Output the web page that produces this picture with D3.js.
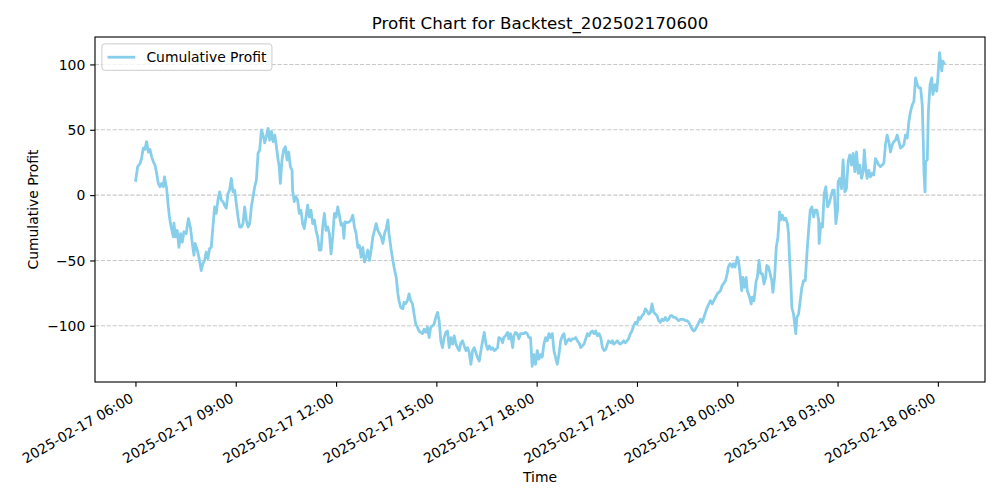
<!DOCTYPE html>
<html>
<head>
<meta charset="utf-8">
<script src="https://cdn.jsdelivr.net/npm/d3@7/dist/d3.min.js"></script>
<style>
  html, body { margin: 0; padding: 0; background: #fff; }
  svg text { font-family: "DejaVu Sans", sans-serif; fill: #000; }
</style>
</head>
<body>
<svg id="chart" width="1000" height="500"></svg>
<script>
// ---- data ----
const chartTitle = "Profit Chart for Backtest_202502170600";
const seriesName = "Cumulative Profit";
const xLabel = "Time";
const yLabel = "Cumulative Profit";
const startTime = [2025, 1, 17, 6, 0]; // 2025-02-17 06:00 (month 0-based)

// minutes elapsed since start
const minutes = [
  0,4,8,11,14,17,20,23,26,29,32,35,38,41,44,47,50,52,56,59,61,64,68,69,72,75,78,81,84,87,91,95,99,102,105,107,111,115,118,121,124,127,130,133,136,139,142,145,148,151,154,157,160,163,166,169,
  172,175,178,181,184,187,190,193,196,199,202,205,208,211,214,217,220,223,226,229,232,235,238,241,244,247,250,253,256,258,260,263,266,269,272,275,278,281,282,285,288,291,294,297,300,303,306,309,312,315,318,321,324,327,330,333,336,339,342,345,348,
  351,354,357,360,363,366,369,372,374,376,380,384,387,390,393,396,399,402,405,408,411,414,417,420,423,426,429,432,435,438,441,444,447,450,453,455,459,462,464,468,471,473,476,480,482,485,488,491,494,497,500,503,506,509,512,515,518,521,524,527,
  530,533,536,539,542,545,548,551,554,557,560,563,566,569,572,575,578,581,584,587,590,593,596,599,602,605,608,611,614,617,620,623,626,629,632,635,638,641,644,647,650,652,656,659,661,664,668,670,673,677,679,682,685,688,691,694,697,700,703,706,
  709,712,715,718,721,724,727,730,733,736,739,742,745,748,751,754,757,760,763,766,769,772,775,778,781,784,787,790,793,796,799,802,805,808,811,814,817,820,823,826,829,832,835,838,841,844,847,849,853,856,858,861,865,867,870,873,876,879,882,885,
  888,891,894,897,900,903,906,909,912,915,918,921,924,927,930,933,936,939,942,945,948,951,954,957,960,963,966,969,972,975,978,981,984,987,990,993,996,999,1002,1005,1008,1011,1014,1017,1020,1023,1026,1029,1032,1035,1038,1041,1044,1047,1050,1053,1055,1059,1062,1064,
  1067,1071,1073,1076,1080,1082,1085,1088,1090,1093,1096,1098,1102,1105,1107,1110,1114,1116,1119,1122,1125,1128,1131,1133,1136,1139,1142,1144,1147,1150,1153,1156,1158,1161,1164,1167,1170,1172,1174,1176,1178,1181,1183,1185,1187,1190,1193,1196,1199,1202,1205,1208,1211,1214,1217,1220,1223,1226,1227,1230,1233,1236,1239,1242,1245,1248,1251,1254,1257,1260,
  1261,1264,1267,1270,1273,1276,1279,1282,1285,1288,1291,1294,1297,1300,1303,1306,1308,1310,1313,1316,1319,1322,1325,1328,1331,1334,1337,1340,1343,1346,1349,1352,1355,1358,1361,1364,1367,1370,1373,1376,1379,1382,1385,1388,1391,1394,1397,1400,1403,1406,1409,1412,1414,1415,1417,1418,1421,1423,1426,1429,1431,1435,1438,1440,1443,1447,1449,1452
];

const profit = [
  10.2,21.8,24,28,36,35,41,33,35,29.5,25.6,23,16.7,9,6.4,9,6.4,14,5,-9,-16.7,-24.4,-32,-21.5,-32,-27,-40,-29.5,-36,-28,-29.5,-18,-25.6,-37,-46,-37,-42,-50,-57.7,-52.5,-50,-43.6,-48.7,-41,-40,-24.4,-9,-14,-3.8,2.5,-3.8,-5,-8,-10,1.3,3.8,
  12.8,2.5,3.8,-6.4,-16.7,-24.4,-24.4,-21.8,-9,-19,-24.4,-22,-9,-1.3,6.4,11.5,32,34.6,50,46,40,45,51,42,48.7,41,46,37,27,21.8,9,27,34.6,37,27,33,21.8,19,3.8,-5,-1.3,-3.8,-14,-11.5,-21.8,-25.6,-16.7,-7.7,-16.7,-11.5,-21.8,-19,-27,-32,-42,-42,-24.4,-14,-27,-24.4,-29.5,
  -45,-32,-14,-16.7,-9,-15.4,-23,-21.8,-33,-20.5,-21,-20.5,-19,-15.4,-24.4,-29.5,-40,-38.5,-47.5,-40,-51,-47.5,-42,-50,-42,-32,-27,-21.8,-27,-29.5,-32,-37,-29.5,-25.6,-19,-29.5,-42,-50,-55,-63,-75.6,-80.8,-86,-87,-82,-83,-80.8,-75.6,-80.8,-83,-91,-98.7,-101,-104,-105,-106,-102.6,-105,-101,-109,
  -101,-100,-98.7,-93.6,-89.7,-96,-111.5,-116.7,-109,-105,-104,-116.7,-109,-114,-107.7,-114,-116.7,-119,-113,-111.5,-115.4,-119,-116.7,-120.5,-129.5,-119,-116.7,-120.5,-124.4,-127,-119,-111.5,-105,-114,-118,-115.4,-118,-116.7,-119,-118,-116.7,-109,-110,-113,-109,-107.7,-105,-110,-106,-116.7,-107.7,-105,-106,-110,-106,-106,-106,-105,-106,-109,
  -109,-131,-122,-129.5,-119,-125.6,-122,-124,-114,-109,-111.5,-106,-109,-106,-119,-124.4,-129.5,-122,-111.5,-107.7,-106,-114,-111.5,-110,-111.5,-110,-110,-109,-111.5,-113,-116.7,-115.4,-114,-110,-106,-107.7,-105,-104,-106,-104,-107.7,-106,-109,-116.7,-119,-118,-114,-111.5,-113,-111.5,-114,-113,-111.5,-113,-114,-113,-111.5,-113,-111.5,-110,
  -106,-104,-100,-97.4,-98.7,-93.6,-95,-92.3,-91,-87,-88.5,-91,-90,-83.3,-89.7,-91,-92.3,-96,-97.4,-94.9,-96,-93.6,-96,-95,-92.3,-92.3,-93.6,-93.6,-95,-96,-95,-95,-95,-96,-96,-97.4,-100,-102.6,-104,-102.6,-100,-97.4,-95,-97.4,-93.6,-89.7,-86,-83.3,-80.8,-83.3,-80.8,-78.2,-75.6,-74.4,-73,-69,-68,-65.4,-60,-55,
  -52.5,-55,-52.5,-55,-47.5,-50,-60,-73,-63,-70.5,-63,-73,-78,-83.3,-78,-80.8,-65.4,-63,-50,-60,-60,-68,-63,-53.8,-55,-60,-65.4,-74.4,-63,-40,-32,-12.8,-19,-15.4,-19,-17.7,-21.8,-29.5,-50,-65.4,-86,-91,-98.7,-106,-93.6,-91,-80.8,-70.5,-65.4,-65.4,-45,-27,-11.5,-9,-16.7,-11.5,-11.5,-19,-37,-21.8,-24.4,1.3,6.4,-9,-6.4,-1.3,3.8,3.8,-21.8,-11.5,
  10.2,12.8,5,27,2.5,5,25.6,30.8,23,32,18,33,16.7,23,12.8,18,34.6,23,12.8,19,14,16.7,15.4,28,25.6,23,21.8,23,24.4,38.5,46,41,33,38.5,41,42,46,41,36,37,38.5,46,43.6,56.4,64,69,71.8,89.7,84.6,82,82,69,38.5,18,2.5,25.6,27,64,84.6,89.7,77,84.6,79.5,89.7,109,95,102.6,100
];

// ---- chart ----
const W = 1000, H = 500;
const margin = { top: 37, right: 15, bottom: 118, left: 95 };
const iw = W - margin.left - margin.right;
const ih = H - margin.top - margin.bottom;
const pt = 100 / 72;

const t0 = new Date(startTime[0], startTime[1], startTime[2], startTime[3], startTime[4]);
const n = Math.min(minutes.length, profit.length);
const data = d3.range(n).map(i => ({ t: new Date(t0.getTime() + minutes[i] * 60000), v: profit[i] }));

const svg = d3.select("#chart");
const g = svg.append("g").attr("transform", `translate(${margin.left},${margin.top})`);

// matplotlib-style 5% margins
const tExt = d3.extent(data, d => d.t.getTime());
const tPad = (tExt[1] - tExt[0]) * 0.05;
const x = d3.scaleTime().domain([new Date(tExt[0] - tPad), new Date(tExt[1] + tPad)]).range([0, iw]);
const vExt = d3.extent(data, d => d.v);
const vPad = (vExt[1] - vExt[0]) * 0.05;
const y = d3.scaleLinear().domain([vExt[0] - vPad, vExt[1] + vPad]).range([ih, 0]);

const yTicks = y.ticks(5);
const xTicks = x.ticks(d3.timeHour.every(3)).filter(d => d >= x.domain()[0] && d <= x.domain()[1]);
const fmt = d3.timeFormat("%Y-%m-%d %H:%M");

// grid (y only, dashed)
g.append("g").selectAll("line").data(yTicks).join("line")
  .attr("x1", 0).attr("x2", iw)
  .attr("y1", d => y(d)).attr("y2", d => y(d))
  .attr("stroke", "#b0b0b0").attr("stroke-opacity", 0.7)
  .attr("stroke-width", 0.8 * pt).attr("stroke-dasharray", `${2.96 * pt},${1.28 * pt}`);

// line
const line = d3.line().x(d => x(d.t)).y(d => y(d.v));
g.append("path").datum(data)
  .attr("fill", "none").attr("stroke", "#87CEEB")
  .attr("stroke-width", 2 * pt).attr("stroke-linejoin", "round").attr("stroke-linecap", "butt")
  .attr("d", line);

// spines
g.append("rect").attr("x", 0).attr("y", 0).attr("width", iw).attr("height", ih)
  .attr("fill", "none").attr("stroke", "#000").attr("stroke-width", 0.8 * pt);

// y axis
const yAx = g.append("g").call(d3.axisLeft(y).tickValues(yTicks).tickSize(3.5 * pt).tickPadding(3.5 * pt));
yAx.select(".domain").remove();
yAx.selectAll(".tick line").attr("stroke", "#000").attr("stroke-width", 0.8 * pt);
yAx.selectAll(".tick text").attr("font-size", "13.9px").attr("font-family", "DejaVu Sans").attr("dy", "0.34em");

// x axis
const xAx = g.append("g").attr("transform", `translate(0,${ih})`)
  .call(d3.axisBottom(x).tickValues(xTicks).tickSize(3.5 * pt).tickFormat(fmt));
xAx.select(".domain").remove();
xAx.selectAll(".tick line").attr("stroke", "#000").attr("stroke-width", 0.8 * pt);
xAx.selectAll(".tick text")
  .attr("font-size", "13.9px").attr("font-family", "DejaVu Sans")
  .attr("text-anchor", "end").attr("dy", null).attr("y", null)
  .attr("transform", "translate(-1.6,19.2) rotate(-30)");

// title & labels
svg.append("text").attr("x", margin.left + iw / 2).attr("y", 29)
  .attr("text-anchor", "middle").attr("font-size", "16.7px").text(chartTitle);
svg.append("text").attr("x", margin.left + iw / 2).attr("y", 482)
  .attr("text-anchor", "middle").attr("font-size", "13.9px").text(xLabel);
svg.append("text").attr("transform", `translate(38,${margin.top + ih / 2}) rotate(-90)`)
  .attr("text-anchor", "middle").attr("font-size", "13.9px").text(yLabel);

// legend
const lg = g.append("g").attr("transform", "translate(6.9,6.9)");
const lgText = lg.append("text").attr("x", 44.5).attr("y", 13.3).attr("dy", "0.36em")
  .attr("font-size", "13.9px").text(seriesName);
const tw = lgText.node().getComputedTextLength();
lg.insert("rect", "text").attr("x", 0).attr("y", 0)
  .attr("width", 44.5 + tw + 5.6).attr("height", 26.4)
  .attr("rx", 2.8).attr("fill", "#fff").attr("fill-opacity", 0.8)
  .attr("stroke", "#cccccc").attr("stroke-width", 1);
lg.insert("line", "text").attr("x1", 5.6).attr("x2", 33.4).attr("y1", 13.3).attr("y2", 13.3)
  .attr("stroke", "#87CEEB").attr("stroke-width", 2 * pt);
</script>
</body>
</html>
